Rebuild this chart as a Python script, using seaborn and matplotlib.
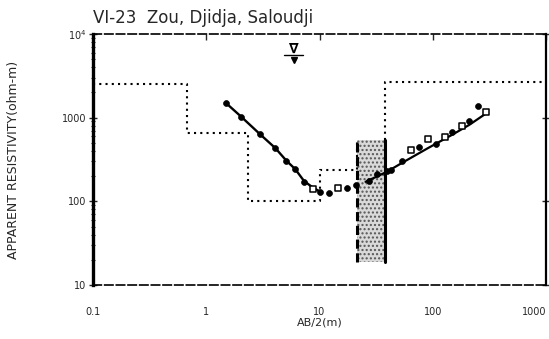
import numpy as np
import pandas as pd
import matplotlib
matplotlib.use("Agg")
import matplotlib.pyplot as plt
import seaborn as sns

# ---- data ----
title = "VI-23  Zou, Djidja, Saloudji"
ab2 = [1.49, 2.03, 3.0, 4.08, 5.1, 6.1, 7.3, 8.8, 10.2, 12.2, 14.5, 17.6, 21.2,
       27.3, 32.4, 39.2, 42.5, 54, 64, 76, 90, 106, 128, 147, 180, 210, 252, 294]
rho = [1500, 1030, 630, 432, 306, 243, 168, 140, 129, 127, 144, 144, 157,
       176, 211, 232, 238, 306, 411, 443, 558, 486, 585, 673, 794, 912, 1380, 1170]
is_open = [0, 0, 0, 0, 0, 0, 0, 1, 0, 0, 1, 0, 0,
           0, 0, 0, 0, 0, 1, 0, 1, 0, 1, 0, 1, 0, 0, 1]

# fitted curve (two solid branches)
fit_left_x = [1.49, 2.03, 3.0, 4.08, 5.1, 6.1, 7.3, 8.8, 10.2]
fit_left_y = [1500, 1030, 630, 432, 306, 243, 175, 145, 130]
fit_right_x = [25.5, 39.2, 54, 90, 147, 210, 294]
fit_right_y = [171, 225, 290, 430, 620, 820, 1117]

# layered model (dotted steps)
model_x = [0.1, 0.68, 0.68, 2.35, 2.35, 10, 10, 21.6, 21.6]
model_y = [2500, 2500, 650, 650, 100, 100, 235, 235, 540]
model2_x = [38, 38, 1000]
model2_y = [540, 2700, 2700]

# shaded uncertain layer
box_x = [21.6, 38]
box_lo = 19
box_hi = 540

xticks = [0.1, 1, 10, 100, 1000]
xticklabels = ["0.1", "1", "10", "100", "1000"]
yticks = [10, 100, 1000, 10000]
yticklabels = ["10", "100", "1000", "10$^4$"]

# ---- plot ----
sns.set_theme(style="white")
plt.rcParams['font.family'] = ['DejaVu Sans']

fig = plt.figure(figsize=(5.49, 3.39), dpi=100)
ax = fig.add_axes([93/549, 1-285/339, (546-93)/549, (285-34)/339])
ax.set_xscale("log")
ax.set_yscale("log")
ax.set_xlim(0.1, 1000)
ax.set_ylim(10, 10000)

# shaded box
ax.fill_between(box_x, [box_lo]*2, [box_hi]*2, facecolor="#d9d9d9",
                hatch="....", edgecolor="#555555", linewidth=0)
ax.plot([box_x[0]]*2, [box_lo, box_hi], color="black", lw=2.2, ls=(0, (3, 1.5)))
ax.plot([box_x[1]]*2, [box_lo, box_hi], color="black", lw=2.2)

# model
ax.plot(model_x, model_y, color="black", lw=1.5, ls=(0, (1, 2)))
ax.plot(model2_x, model2_y, color="black", lw=1.5, ls=(0, (1, 2)))

# fit curve
sns.lineplot(x=fit_left_x, y=fit_left_y, ax=ax, color="black", lw=1.7, sort=False)
sns.lineplot(x=fit_right_x, y=fit_right_y, ax=ax, color="black", lw=1.6, sort=False)

# observed points
df = pd.DataFrame({"ab2": ab2, "rho": rho, "open": is_open})
filled = df[df.open == 0]
opened = df[df.open == 1]
sns.scatterplot(data=filled, x="ab2", y="rho", ax=ax, color="black", s=18,
                edgecolor="black", linewidth=0.5, legend=False, zorder=5)
sns.scatterplot(data=opened, x="ab2", y="rho", ax=ax, marker="s", s=14,
                facecolor="white", edgecolor="black", linewidth=1.1,
                legend=False, zorder=5)

# water table symbol
ax.text(5.9, 6600, "\u2207", ha="center", va="center", fontsize=10,
        fontweight="bold", color="black")
ax.plot([4.9, 7.1], [5600, 5600], color="black", lw=1.0)
ax.plot([5.9], [4900], marker="v", color="black", ms=4)

# axes styling
ax.set_xticks(xticks)
ax.set_xticklabels(xticklabels, fontsize=7)
ax.set_yticks(yticks)
ax.set_yticklabels(yticklabels, fontsize=7)
ax.tick_params(axis="x", which="major", top=True, bottom=False, direction="in",
               length=4, width=1, pad=16, labelbottom=True)
ax.tick_params(axis="x", which="minor", top=False, bottom=False)
ax.tick_params(axis="y", which="major", left=True, right=True, direction="inout",
               length=6, width=1, pad=2)
ax.tick_params(axis="y", which="minor", left=True, right=False, direction="inout",
               length=3, width=0.8)
xl = ax.get_xticklabels()
xl[-1].set_horizontalalignment("right")
xl[-1].set_x(1000)

for side in ["top", "bottom"]:
    ax.spines[side].set_linestyle((0, (5, 2)))
    ax.spines[side].set_linewidth(1.2)
ax.spines["left"].set_linewidth(2.4)
ax.spines["right"].set_linewidth(1.6)
for s in ax.spines.values():
    s.set_color("black")
    s.set_visible(True)

ax.set_xlabel("AB/2(m)", fontsize=8, labelpad=0)
ax.set_ylabel("APPARENT RESISTIVITY(ohm-m)", fontsize=9, labelpad=30)
fig.text(93/549, 1-18/339, title, fontsize=12, ha="left", va="center")

fig.savefig("out.png", dpi=100)
